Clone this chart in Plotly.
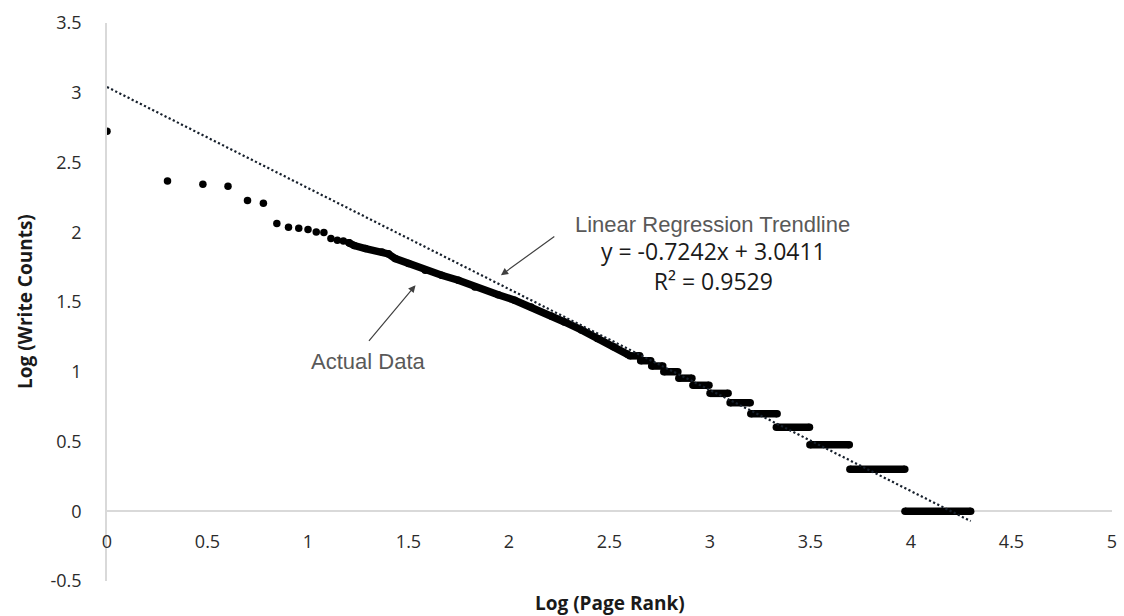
import plotly.graph_objects as go

# ---- data ----
# individual, clearly separated points (top ranks)
pts_x = [0.000, 0.301, 0.477, 0.602, 0.699, 0.778, 0.845, 0.903, 0.954, 1.000,
         1.041, 1.079, 1.114, 1.146, 1.176, 1.204]
pts_y = [2.724, 2.368, 2.344, 2.330, 2.227, 2.208, 2.062, 2.036, 2.029, 2.019,
         2.002, 1.998, 1.955, 1.943, 1.938, 1.924]

# dense middle section (points overlap into a continuous band)
curve_x = [1.204, 1.230, 1.286, 1.368, 1.400, 1.434, 1.500, 1.583, 1.665, 1.748,
           1.830, 1.946, 2.028, 2.110, 2.210, 2.276, 2.360, 2.440, 2.520, 2.590]
curve_y = [1.924, 1.905, 1.883, 1.859, 1.845, 1.811, 1.776, 1.728, 1.692, 1.656,
           1.608, 1.552, 1.513, 1.464, 1.400, 1.357, 1.300, 1.238, 1.180, 1.125]

# stepped tail: each level (log of write count) spans a range of log ranks
step_y  = [1.114, 1.079, 1.041, 1.000, 0.954, 0.903, 0.845, 0.778, 0.699, 0.602, 0.477, 0.301, 0.000]
step_x0 = [2.600, 2.655, 2.710, 2.770, 2.845, 2.915, 3.000, 3.100, 3.203, 3.330, 3.497, 3.696, 3.970]
step_x1 = [2.650, 2.705, 2.765, 2.840, 2.910, 2.995, 3.090, 3.200, 3.334, 3.495, 3.693, 3.969, 4.297]

# trendline parameters (from the chart text)
trend_slope = -0.7242
trend_intercept = 3.0411
trend_x = [0.0, 4.297]

x_ticks = [0, 0.5, 1, 1.5, 2, 2.5, 3, 3.5, 4, 4.5, 5]
x_tick_labels = ["0", "0.5", "1", "1.5", "2", "2.5", "3", "3.5", "4", "4.5", "5"]
y_ticks = [-0.5, 0, 0.5, 1, 1.5, 2, 2.5, 3, 3.5]
y_tick_labels = ["-0.5", "0", "0.5", "1", "1.5", "2", "2.5", "3", "3.5"]

trend_y = [trend_slope * v + trend_intercept for v in trend_x]
step_len = [b - a for a, b in zip(step_x0, step_x1)]

MK = 7.5                     # marker diameter in px
PLOT_H = 616 - 23 - 35       # plot area height in px
BAND = MK * 4.0 / PLOT_H     # band thickness in y-units (4 units over plot height)

fig = go.Figure()
fig.add_trace(go.Scatter(x=curve_x, y=curve_y, mode="lines+markers",
                         line=dict(color="black", width=MK),
                         marker=dict(color="black", size=MK), hoverinfo="skip"))
# each step level as a thin horizontal band of overlapping points
fig.add_trace(go.Bar(y=step_y, x=step_len, base=step_x0, orientation="h",
                     width=BAND, marker=dict(color="black", line=dict(width=0)),
                     hoverinfo="skip"))
fig.add_trace(go.Scatter(x=step_x0 + step_x1, y=step_y + step_y, mode="markers",
                         marker=dict(color="black", size=MK), hoverinfo="skip"))
fig.add_trace(go.Scatter(x=pts_x, y=pts_y, mode="markers",
                         marker=dict(color="black", size=MK)))
fig.add_trace(go.Scatter(x=trend_x, y=trend_y, mode="lines",
                         line=dict(color="#17202c", width=2.2, dash="2.2px,2.4px")))

tick_font = dict(family="Open Sans", size=18, color="#2b2b2b")

fig.update_layout(
    width=1124, height=616,
    margin=dict(l=107, r=7, t=23, b=35),
    paper_bgcolor="white", plot_bgcolor="white",
    showlegend=False,
    xaxis=dict(range=[0, 5], tickvals=x_ticks, ticktext=x_tick_labels,
               showgrid=False, zeroline=False,
               showline=True, linecolor="#d9d9d9", linewidth=1.5,
               anchor="free", position=0.125, ticks="", layer="below traces",
               ticklabelstandoff=14, tickfont=tick_font),
    yaxis=dict(range=[-0.5, 3.5], tickvals=y_ticks, ticktext=y_tick_labels,
               showgrid=False, zeroline=False,
               showline=True, linecolor="#d9d9d9", linewidth=1.5, ticks="",
               layer="below traces",
               ticklabelstandoff=20, tickfont=tick_font),
)

ann_gray = dict(family="Liberation Sans, Arial", size=22, color="#595959")
ann_eq = dict(family="Open Sans", size=23, color="#1a1a1a")
title_font = dict(family="Open Sans", size=19, color="#1a1a1a")

fig.add_annotation(x=3.01, y=2.055, text="Linear Regression Trendline", showarrow=False, font=ann_gray)
fig.add_annotation(x=3.015, y=1.755, text="y = -0.7242x + 3.0411<br>R² = 0.9529",
                   showarrow=False, font=ann_eq, align="center")
fig.add_annotation(x=1.297, y=1.075, text="Actual Data", showarrow=False, font=ann_gray)

# arrows
fig.add_annotation(x=1.960, y=1.692, ax=2.233, ay=1.978, axref="x", ayref="y",
                   xref="x", yref="y", text="", showarrow=True, arrowhead=2,
                   arrowsize=1.2, arrowwidth=1.2, arrowcolor="#404040")
fig.add_annotation(x=1.535, y=1.620, ax=1.297, ay=1.211, axref="x", ayref="y",
                   xref="x", yref="y", text="", showarrow=True, arrowhead=2,
                   arrowsize=1.2, arrowwidth=1.2, arrowcolor="#404040")

# axis titles
fig.add_annotation(xref="paper", yref="paper", x=0.5, y=0, yshift=-22,
                   text="<b>Log (Page Rank)</b>", showarrow=False, font=title_font,
                   yanchor="middle")
fig.add_annotation(xref="paper", yref="paper", x=0, xshift=-82, y=0.5,
                   text="<b>Log (Write Counts)</b>", showarrow=False, font=title_font,
                   textangle=-90, xanchor="center")

fig.write_html("out.html")
